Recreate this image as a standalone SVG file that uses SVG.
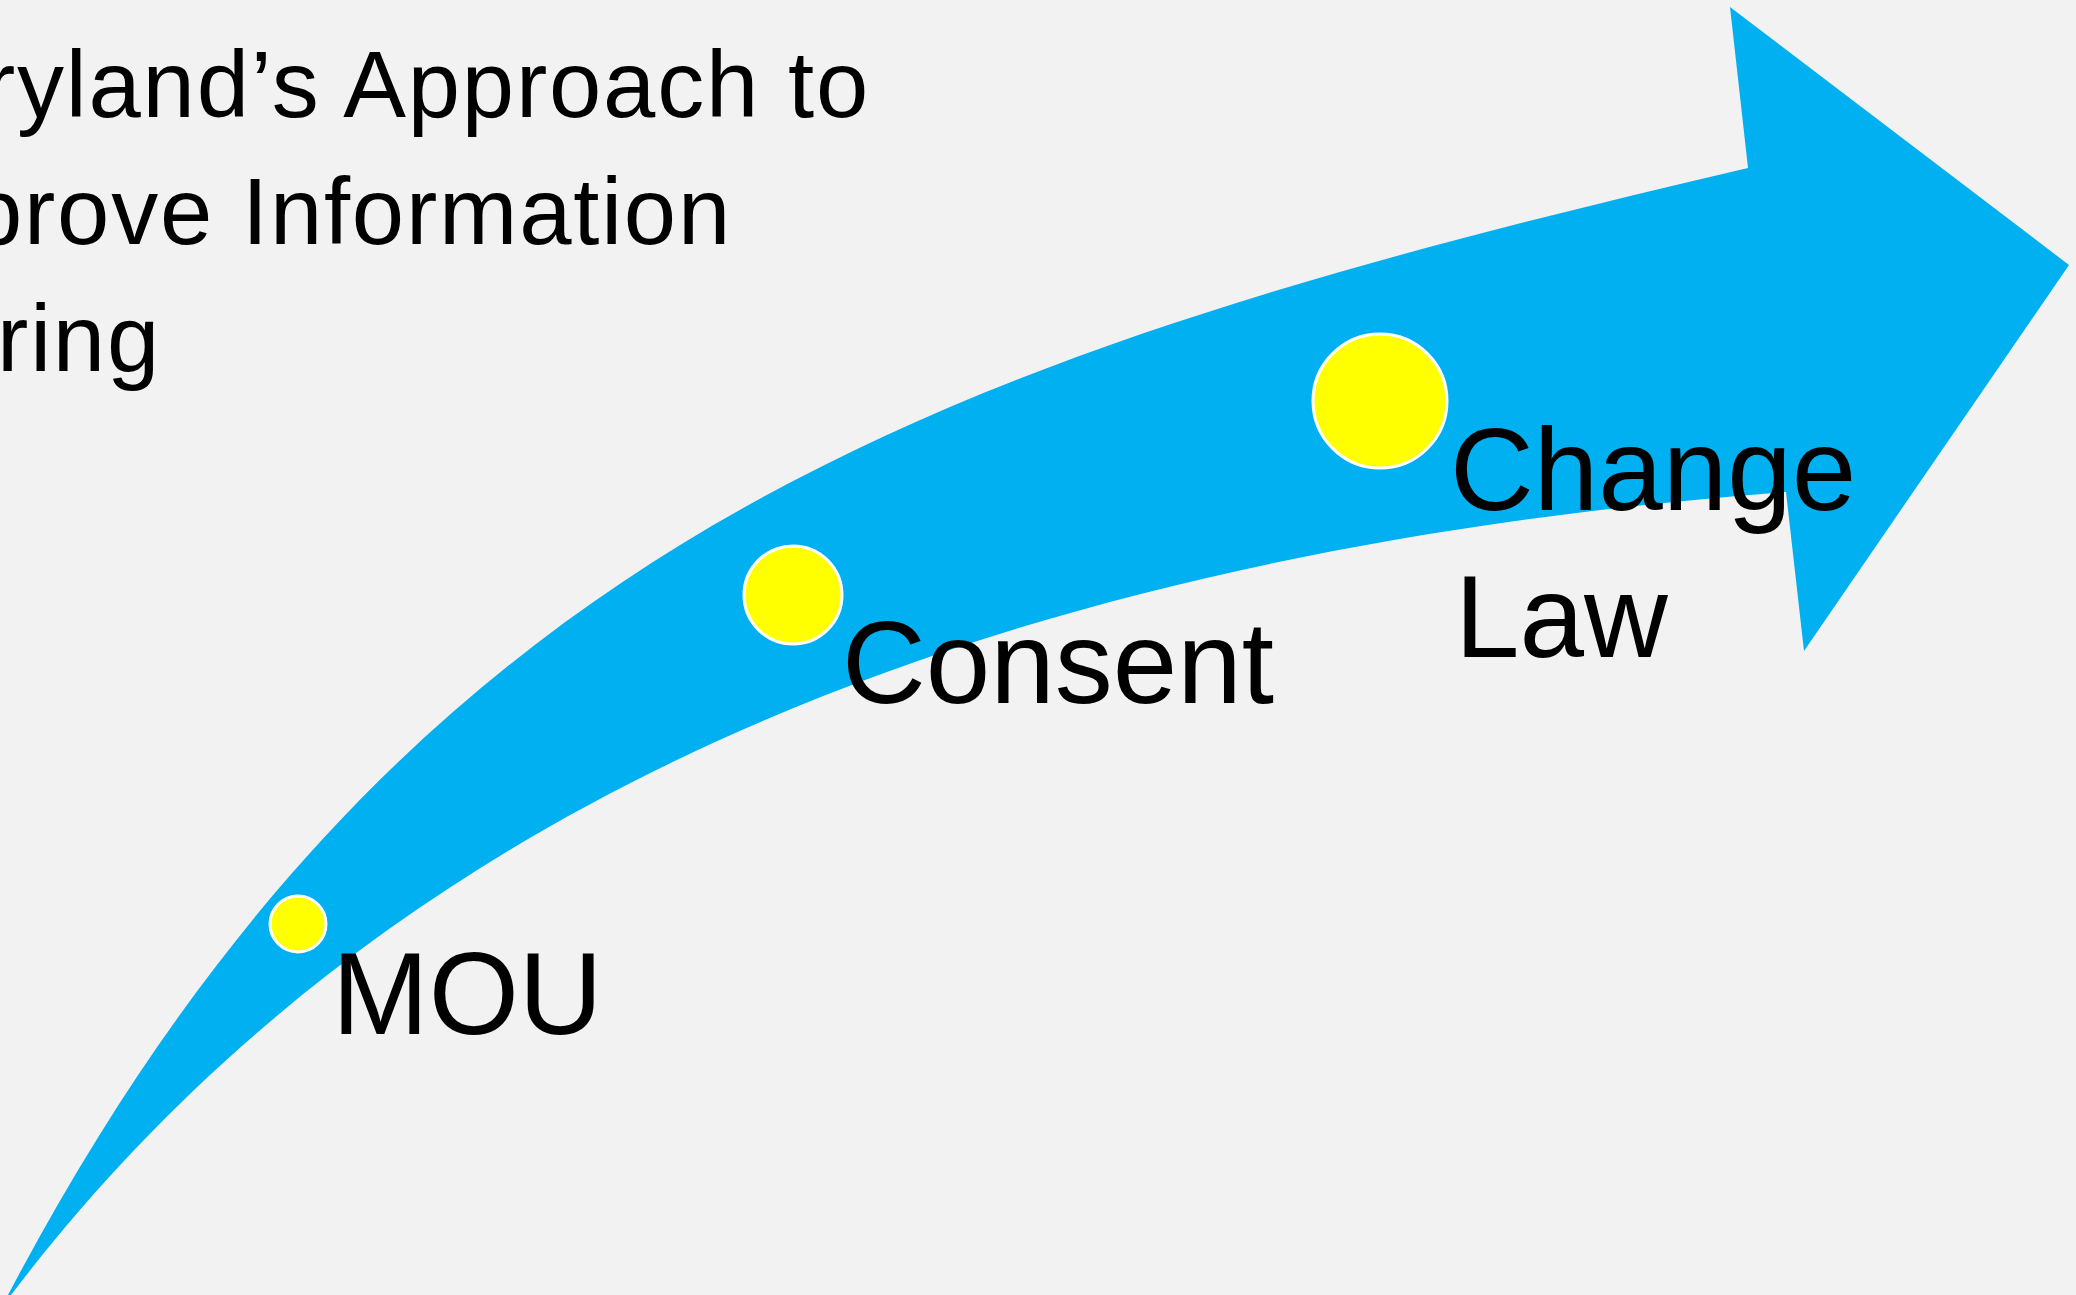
<svg xmlns="http://www.w3.org/2000/svg" width="2076" height="1295" viewBox="0 0 2076 1295">
<style>
.lbl{font-family:"Liberation Sans",Arial,sans-serif;font-size:116px;fill:#000}
.ttl{font-family:"Liberation Sans",Arial,sans-serif;font-size:94px;fill:#000;letter-spacing:1.8px}
.dot{fill:#FFFF00;stroke:#FFFFFF;stroke-width:3}
</style>
<rect x="0" y="0" width="2076" height="1295" fill="#F2F2F2"/>
<g id="connectors">
<path id="curved-arrow" d="M8,1295 C408,535 948,355 1748,168 L1730,7 L2069,265 L1804,651 L1786,492 C900,560 350,850 11,1295 Z" fill="#00B0F0"/>
</g>
<g id="title">
<text class="ttl" x="870" y="117" text-anchor="end">Maryland’s Approach to</text>
<text class="ttl" x="732" y="244" text-anchor="end">Improve Information</text>
<text class="ttl" x="161" y="371" text-anchor="end">Sharing</text>
</g>
<g id="node-mou">
<circle class="dot" cx="298" cy="924" r="28"/>
<text class="lbl" x="332" y="1034">MOU</text>
</g>
<g id="node-consent">
<circle class="dot" cx="793" cy="595" r="49"/>
<text class="lbl" x="842" y="703">Consent</text>
</g>
<g id="node-change-law">
<circle class="dot" cx="1380" cy="401" r="67"/>
<text class="lbl" x="1450" y="510">Change</text>
<text class="lbl" x="1455" y="657">Law</text>
</g>
</svg>
